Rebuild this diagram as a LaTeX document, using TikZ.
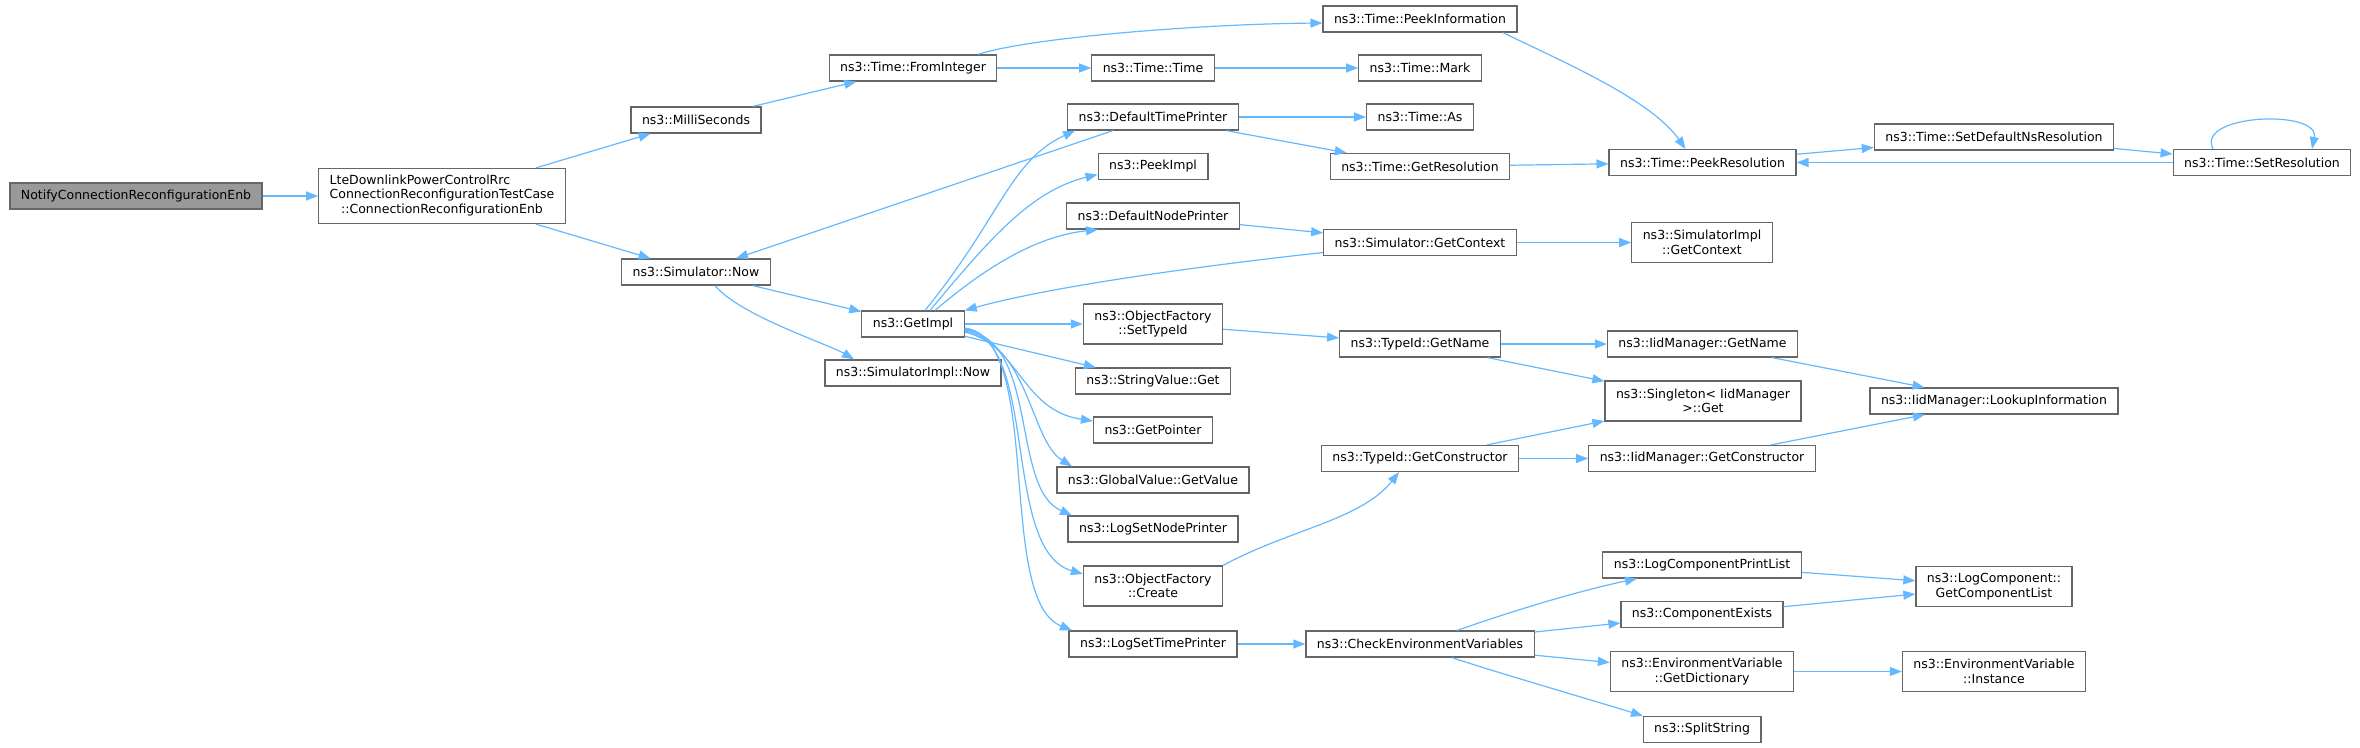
\documentclass[tikz,border=0pt]{standalone}
\usepackage{fontspec}
\setmainfont{DejaVu Sans}
\usetikzlibrary{arrows.meta}
\definecolor{edgeblue}{HTML}{63B8FF}
\definecolor{boxline}{HTML}{666666}
\definecolor{mainfill}{HTML}{999999}
\tikzset{
  fn/.style   ={draw=boxline, line width=1.2pt, fill=white, inner xsep=11pt,
                inner ysep=2pt, minimum height=26pt, align=center,
                font=\fontsize{12.5}{14.5}\selectfont},
  % two-line names
  fn2/.style  ={fn, minimum height=40pt},
  root/.style ={fn, fill=mainfill},
  call/.style ={-{Triangle[length=12pt,width=9pt]}, edgeblue, line width=1.2pt},
}

\begin{document}
\begin{tikzpicture}[x=1pt,y=-1pt]
    \useasboundingbox (0,0) rectangle (2360,747);
    % callers
    \node[root] (NC)  at (136,196)  {NotifyConnectionReconfigurationEnb};
    \node[fn, minimum height=55pt] (LC) at (442,196)
      {\begin{tabular}{@{}l@{}}LteDownlinkPowerControlRrc\\ConnectionReconfigurationTestCase\\
       \multicolumn{1}{@{}c@{}}{::ConnectionReconfigurationEnb}\end{tabular}};
    \node[fn]   (MS)  at (696,120)  {ns3::MilliSeconds};
    \node[fn]   (SN)  at (696,272)  {ns3::Simulator::Now};
    \node[fn]   (FI)  at (913,68)   {ns3::Time::FromInteger};
    \node[fn]   (GI)  at (913,324)  {ns3::GetImpl};
    \node[fn]   (SIN) at (913,373)  {ns3::SimulatorImpl::Now};
    % time
    \node[fn]   (PI)  at (1420,19)  {ns3::Time::PeekInformation};
    \node[fn]   (TT)  at (1153,68)  {ns3::Time::Time};
    \node[fn]   (TM)  at (1420,68)  {ns3::Time::Mark};
    \node[fn]   (DTP) at (1153,117) {ns3::DefaultTimePrinter};
    \node[fn]   (TA)  at (1420,117) {ns3::Time::As};
    \node[fn]   (PK)  at (1153,166.5) {ns3::PeekImpl};
    \node[fn]   (GR)  at (1420,166.5) {ns3::Time::GetResolution};
    \node[fn]   (PR)  at (1702.5,162.5) {ns3::Time::PeekResolution};
    \node[fn]   (SDN) at (1994,137) {ns3::Time::SetDefaultNsResolution};
    \node[fn]   (SR)  at (2262,162.5) {ns3::Time::SetResolution};
    % context
    \node[fn]   (DNP) at (1153,216) {ns3::DefaultNodePrinter};
    \node[fn]   (SGC) at (1420,242.5) {ns3::Simulator::GetContext};
    \node[fn2]  (SIC) at (1702,242.5) {ns3::SimulatorImpl\\::GetContext};
    % type ids
    \node[fn2]  (OST) at (1153,324) {ns3::ObjectFactory\\::SetTypeId};
    \node[fn]   (TGN) at (1420,344) {ns3::TypeId::GetName};
    \node[fn]   (IGN) at (1702.5,344) {ns3::IidManager::GetName};
    \node[fn]   (SVG) at (1153,381) {ns3::StringValue::Get};
    \node[fn2]  (SG)  at (1703,401) {ns3::Singleton< IidManager\\>::Get};
    \node[fn]   (LI)  at (1994,401) {ns3::IidManager::LookupInformation};
    \node[fn]   (GP)  at (1153,430) {ns3::GetPointer};
    \node[fn]   (GV)  at (1153,480) {ns3::GlobalValue::GetValue};
    \node[fn]   (TGC) at (1420,458.5) {ns3::TypeId::GetConstructor};
    \node[fn]   (IGC) at (1702,458.5) {ns3::IidManager::GetConstructor};
    % logging
    \node[fn]   (LSN) at (1153,529) {ns3::LogSetNodePrinter};
    \node[fn2]  (OFC) at (1153,586) {ns3::ObjectFactory\\::Create};
    \node[fn]   (LST) at (1153,644) {ns3::LogSetTimePrinter};
    \node[fn]   (CEV) at (1420,644) {ns3::CheckEnvironmentVariables};
    \node[fn]   (LCP) at (1702,565) {ns3::LogComponentPrintList};
    \node[fn]   (CX)  at (1702,614.5) {ns3::ComponentExists};
    \node[fn2]  (GD)  at (1702,671.5) {ns3::EnvironmentVariable\\::GetDictionary};
    \node[fn]   (SS)  at (1702,729.5) {ns3::SplitString};
    \node[fn2]  (GCL) at (1994,586.5) {ns3::LogComponent::\\GetComponentList};
    \node[fn2]  (EVI) at (1994,671.5) {ns3::EnvironmentVariable\\::Instance};
    % straight calls
    \draw[call] (NC) -- (LC);   \draw[call] (LC) -- (MS);   \draw[call] (LC) -- (SN);
    \draw[call] (MS) -- (FI);   \draw[call] (FI) -- (TT);   \draw[call] (TT) -- (TM);
    \draw[call] (SN) -- (GI);   \draw[call] (DTP) -- (TA);  \draw[call] (DTP) -- (GR);
    \draw[call] (DTP) -- (SN);  \draw[call] (GR) -- (PR);   \draw[call] (PR) -- (SDN);
    \draw[call] (SDN) -- (SR);  \draw[call] (SR) -- (PR);   \draw[call] (DNP) -- (SGC);
    \draw[call] (SGC) -- (SIC); \draw[call] (GI) -- (OST);  \draw[call] (GI) -- (SVG);
    \draw[call] (OST) -- (TGN); \draw[call] (TGN) -- (IGN); \draw[call] (TGN) -- (SG);
    \draw[call] (IGN) -- (LI);  \draw[call] (TGC) -- (SG);  \draw[call] (TGC) -- (IGC);
    \draw[call] (IGC) -- (LI);  \draw[call] (LST) -- (CEV); \draw[call] (CEV) -- (CX);
    \draw[call] (CEV) -- (GD);  \draw[call] (LCP) -- (GCL); \draw[call] (CX) -- (GCL);
    \draw[call] (GD) -- (EVI);
    % curved calls
    \draw[call] ([xshift=65]FI.north) .. controls +(52,-17) and +(-120,1) .. ([yshift=-4]PI.west);
    \draw[call] ([xshift=83]PI.south) .. controls +(57,28) and +(-35,-50) .. ([xshift=-17]PR.north);
    \draw[call] ([xshift=-49]SR.north) .. controls +(-18,-35) and +(8,-40) .. ([xshift=50]SR.north);
    \draw[call] ([xshift=19]SN.south) .. controls +(25,30) and +(-25,-15) .. ([xshift=-59]SIN.north);
    \draw[call] ([xshift=12]GI.north) .. controls +(75,-92) and +(-65,30) .. ([xshift=-78]DTP.south);
    \draw[call] ([xshift=17]GI.north) .. controls +(60,-72) and +(-66,16) .. ([yshift=-8]PK.west);
    \draw[call] ([xshift=22]GI.north) .. controls +(55,-47) and +(-58,6) .. ([xshift=-55]DNP.south);
    \draw[call] ([yshift=-10]SGC.west) .. controls +(-110,12) and +(90,-25) .. (GI.north east);
    \draw[call] ([yshift=-8]GI.east) .. controls +(55,13) and +(-72,-11) .. ([yshift=9]GP.west);
    \draw[call] ([yshift=-7]GI.east) .. controls +(65,14) and +(-42,-26) .. ([xshift=-81]GV.north);
    \draw[call] ([yshift=-6]GI.east) .. controls +(75,10) and +(-62,-27) .. ([xshift=-81]LSN.north);
    \draw[call] ([yshift=-5]GI.east) .. controls +(75,11) and +(-82,-24) .. ([yshift=12]OFC.west);
    \draw[call] ([yshift=-4]GI.east) .. controls +(80,10) and +(-77,-31) .. ([xshift=-81]LST.north);
    \draw[call] (OFC.north east) .. controls +(66,-36) and +(-38,48) .. ([xshift=-21]TGC.south);
    \draw[call] ([xshift=37]CEV.north) .. controls +(60,-21) and +(-57,12) .. ([xshift=-65]LCP.south);
    \draw[call] ([xshift=32]CEV.south) .. controls +(45,15) and +(-45,-14) .. ([xshift=-59]SS.north);
  \end{tikzpicture}
\end{document}
